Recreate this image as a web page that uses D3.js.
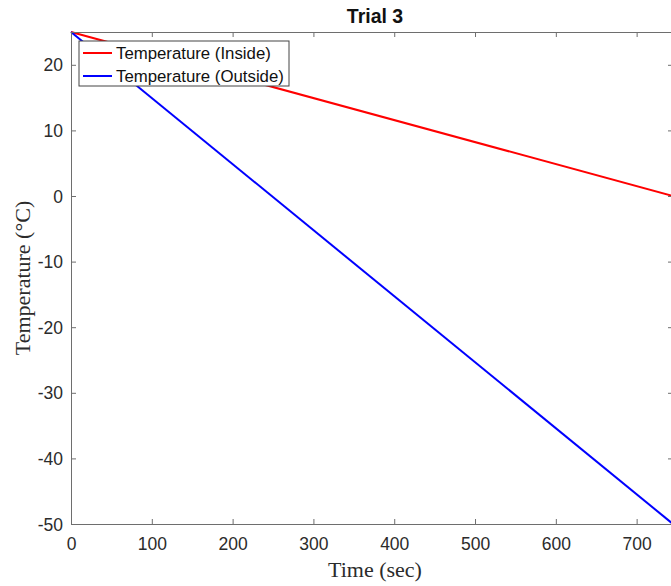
<!DOCTYPE html>
<html>
<head>
<meta charset="utf-8">
<script src="https://cdn.jsdelivr.net/npm/d3@7"></script>
<style>
  body { margin: 0; background: #fff; }
  svg { display: block; }
</style>
</head>
<body>
<svg id="chart" width="671" height="586"></svg>
<script>
// data (time in sec, temperature in °C)
const timeVals = [0, 745];
const insideTemp = [25, 0];
const outsideTemp = [25, -50];
const seriesNames = ['Temperature (Inside)', 'Temperature (Outside)'];
const seriesColors = ['#ff0000', '#0000ff'];
const xTicks = [0, 100, 200, 300, 400, 500, 600, 700];
const yTicks = [-50, -40, -30, -20, -10, 0, 10, 20];

const svg = d3.select('#chart');
const margin = { left: 71, top: 32, right: 673, bottom: 524 };

const x = d3.scaleLinear().domain([0, 745]).range([margin.left, margin.right]);
const y = d3.scaleLinear().domain([-50, 25]).range([margin.bottom, margin.top]);

const axisColor = '#6e6e6e';
const textColor = '#2b2b2b';
const plain = d => String(d); // keep hyphen-minus like MATLAB

// lines first, axes box drawn over them
const line = d3.line().x(d => x(d[0])).y(d => y(d[1]));
const series = [insideTemp, outsideTemp];
series.forEach((vals, i) => {
  svg.append('path')
    .datum(timeVals.map((t, j) => [t, vals[j]]))
    .attr('d', line)
    .attr('fill', 'none')
    .attr('stroke', seriesColors[i])
    .attr('stroke-width', 2);
});

// bottom axis (ticks inward)
const xAxis = svg.append('g')
  .attr('transform', `translate(0,${margin.bottom})`)
  .call(d3.axisBottom(x).tickValues(xTicks).tickSize(-5).tickFormat(plain));
// top axis, ticks only
const xTop = svg.append('g')
  .attr('transform', `translate(0,${margin.top})`)
  .call(d3.axisTop(x).tickValues(xTicks).tickSize(-5).tickFormat(''));
// left axis
const yAxis = svg.append('g')
  .attr('transform', `translate(${margin.left},0)`)
  .call(d3.axisLeft(y).tickValues(yTicks).tickSize(-5).tickPadding(8).tickFormat(plain));
// right axis, ticks only
const yRight = svg.append('g')
  .attr('transform', `translate(${margin.right},0)`)
  .call(d3.axisRight(y).tickValues(yTicks).tickSize(-5).tickFormat(''));

[xAxis, xTop, yAxis, yRight].forEach(g => {
  g.select('.domain').attr('stroke', axisColor).attr('stroke-width', 1);
  g.selectAll('.tick line').attr('stroke', axisColor);
  g.selectAll('.tick text')
    .attr('fill', textColor)
    .style('font-family', 'Liberation Sans, Arial, sans-serif')
    .style('font-size', '17.5px');
});
xAxis.selectAll('.tick text').attr('dy', '0.71em').attr('y', 14);
yAxis.selectAll('.tick text').attr('dy', '0.35em');

// title
svg.append('text')
  .attr('x', 375).attr('y', 23)
  .attr('text-anchor', 'middle')
  .style('font-family', 'Liberation Sans, Arial, sans-serif')
  .style('font-weight', 'bold')
  .style('font-size', '19.5px')
  .attr('fill', '#111')
  .text('Trial 3');

// axis labels
svg.append('text')
  .attr('x', 375).attr('y', 577)
  .attr('text-anchor', 'middle')
  .style('font-family', 'Liberation Serif, Times New Roman, serif')
  .style('font-size', '22px')
  .attr('fill', textColor)
  .text('Time (sec)');

svg.append('text')
  .attr('transform', 'translate(30,278) rotate(-90)')
  .attr('text-anchor', 'middle')
  .style('font-family', 'Liberation Serif, Times New Roman, serif')
  .style('font-size', '22px')
  .attr('fill', textColor)
  .text('Temperature (°C)');

// legend
const legend = svg.append('g').attr('transform', 'translate(79,41)');
legend.append('rect')
  .attr('width', 210).attr('height', 45)
  .attr('fill', '#fff')
  .attr('stroke', '#444')
  .attr('stroke-width', 1);
seriesNames.forEach((name, i) => {
  const ly = 12 + i * 23;
  legend.append('line')
    .attr('x1', 4).attr('x2', 33)
    .attr('y1', ly).attr('y2', ly)
    .attr('stroke', seriesColors[i])
    .attr('stroke-width', 2);
  legend.append('text')
    .attr('x', 37).attr('y', ly)
    .attr('dy', '0.35em')
    .style('font-family', 'Liberation Sans, Arial, sans-serif')
    .style('font-size', '16.8px')
    .attr('fill', '#111')
    .text(name);
});
</script>
</body>
</html>
